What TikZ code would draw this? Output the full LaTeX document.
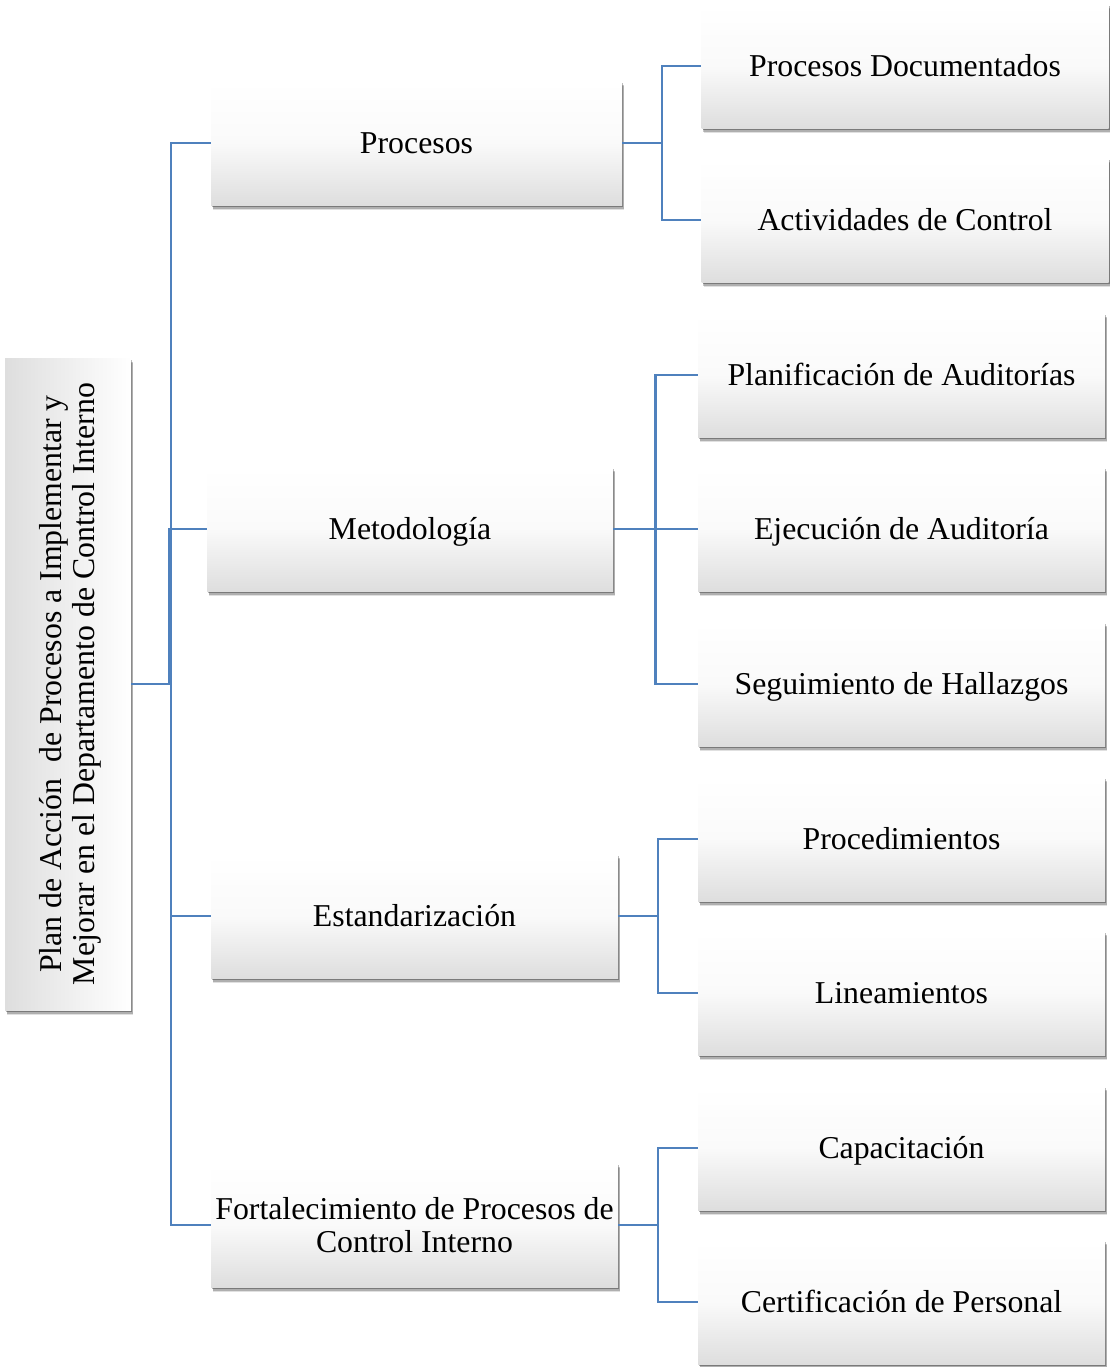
\documentclass[tikz,border=0pt]{standalone}
\usepackage{fontspec}
\setmainfont{Liberation Serif}
\usepackage{graphicx}
\usetikzlibrary{shadows,calc}
\tikzset{
  myshadow/.style={
    drop shadow={shadow xshift=1.6pt, shadow yshift=-4pt, fill=black, opacity=.12},
    drop shadow={shadow xshift=1.2pt, shadow yshift=-3pt, fill=black, opacity=.22},
    drop shadow={shadow xshift=0.8pt, shadow yshift=-1.8pt, fill=black, opacity=.3}},
  box/.style={draw=none, inner sep=0pt, align=center,
    top color=white, bottom color=black!13, middle color=black!2,
    minimum width=305.25pt, minimum height=93pt,
    font=\fontsize{23.85}{24.8}\selectfont, myshadow},
  one/.style={text height=16.2pt, text depth=0pt},
  rootbox/.style={draw=none, inner sep=0pt, align=center,
    left color=black!13, right color=white,
    minimum width=94.5pt, minimum height=489pt,
    font=\fontsize{23.85}{24.8}\selectfont, myshadow},
  link/.style={draw={rgb,255:red,79;green,129;blue,189}, line width=1.7pt}
}
\newcommand{\elbow}[2]{\draw[link] (#1.east) -- ($(#1.east)!.5!(#1.east -| #2.west)$) |- (#2.west);}
\begin{document}
\begin{tikzpicture}[x=0.75pt,y=-0.75pt]
\useasboundingbox (0,0) rectangle (1110,1367);
\node[rootbox] (root) at (68,684) {\hspace*{4.5pt}\rotatebox{90}{\begin{tabular}{@{}c@{}}Plan de Acción\ \ de Procesos a Implementar y\\ Mejorar en el Departamento de Control Interno\end{tabular}}};
\node[box, one, minimum width=308.25pt] (p) at (416.5,143) {Procesos};
\node[box, one, minimum width=304.5pt] (m) at (410,529) {Metodología};
\node[box, one] (e) at (414.5,916) {Estandarización};
\node[box] (f) at (414.5,1225) {Fortalecimiento de Procesos de\\Control Interno};
\node[box, one] (p1) at (905,66) {Procesos Documentados};
\node[box, one] (p2) at (905,220) {Actividades de Control};
\node[box, one] (m1) at (901.5,375) {Planificación de Auditorías};
\node[box, one] (m2) at (901.5,529) {Ejecución de Auditoría};
\node[box, one] (m3) at (901.5,684) {Seguimiento de Hallazgos};
\node[box, one] (e1) at (901.5,839) {Procedimientos};
\node[box, one] (e2) at (901.5,993) {Lineamientos};
\node[box, one] (f1) at (901.5,1148) {Capacitación};
\node[box, one] (f2) at (901.5,1302) {Certificación de Personal};
\elbow{root}{p}
\elbow{root}{m}
\elbow{root}{e}
\elbow{root}{f}
\elbow{p}{p1}
\elbow{p}{p2}
\elbow{m}{m1}
\elbow{m}{m2}
\elbow{m}{m3}
\elbow{e}{e1}
\elbow{e}{e2}
\elbow{f}{f1}
\elbow{f}{f2}
\end{tikzpicture}
\end{document}
